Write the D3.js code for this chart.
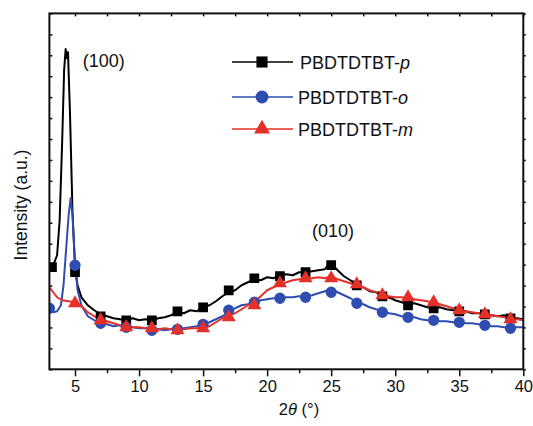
<!DOCTYPE html>
<html><head><meta charset="utf-8">
<script src="https://cdn.jsdelivr.net/npm/d3@7"></script>
<style>body{margin:0;background:#fff}svg{display:block}text{font-family:"Liberation Sans",Arial,sans-serif;fill:#111}</style>
</head><body>
<svg id="c" width="533" height="426"></svg>
<script>
// ---- data (2θ in degrees, intensity in arbitrary units) ----
const seriesNames = ["PBDTDTBT-p", "PBDTDTBT-o", "PBDTDTBT-m"];
const seriesSuffix = ["p", "o", "m"];
const seriesColors = ["#000000", "#2f4db0", "#e5302a"];

const pX = [3.0,3.3,3.6,3.8,4.0,4.15,4.27,4.35,4.45,4.6,4.8,5.0,5.2,5.5,6.0,6.5,7.0,7.5,8.0,8.5,9.0,9.5,10.0,10.5,11.0,11.5,12.0,12.5,13.0,13.5,14.0,14.5,15.0,15.5,16.0,16.5,17.0,17.5,18.0,18.5,19.0,19.5,20.0,20.5,21.0,21.5,22.0,22.5,23.0,23.5,24.0,24.5,24.8,25.0,25.2,25.5,26.0,26.5,27.0,27.5,28.0,28.5,29.0,29.5,30.0,30.5,31.0,31.5,32.0,32.5,33.0,33.5,34.0,34.5,35.0,35.5,36.0,36.5,37.0,37.5,38.0,38.5,39.0,39.5,40.0];
const pY = [101,104,114,149,229,299,320,311,317,259,159,101,84,72,64,59,55,53,51,50,49,51,49,50,49,51,52,54,57,56,59,58,62,64,68,73,77,79,84,87,90,89,92,91,94,95,94,97,97,98,99,100,105,107,103,99,93,89,84,82,78,77,73,72,69,67,65,66,64,62,61,62,60,59,59,58,56,56,55,54,53,54,51,51,50];
const pMarkX = [3.2,5,7,9,11,13,15,17,19,21,23,25,27,29,31,33,35,37,39];
const pMarkY = [102,97,53,49,49,58,62,79,91,93,97,104,84,73,64,61,58,55,51];

const oX = [3.0,3.3,3.6,3.9,4.1,4.3,4.5,4.66,4.8,5.0,5.2,5.5,6.0,6.5,7.0,7.5,8.0,8.5,9.0,9.5,10.0,10.5,11.0,11.5,12.0,12.5,13.0,13.5,14.0,14.5,15.0,15.5,16.0,16.5,17.0,17.5,18.0,18.5,19.0,19.5,20.0,20.5,21.0,21.5,22.0,22.5,23.0,23.5,24.0,24.5,25.0,25.5,26.0,26.5,27.0,27.5,28.0,28.5,29.0,29.5,30.0,30.5,31.0,31.5,32.0,32.5,33.0,33.5,34.0,34.5,35.0,35.5,36.0,36.5,37.0,37.5,38.0,38.5,39.0,39.5,40.0];
const oY = [61,57,58,64,84,119,154,171,154,107,79,64,53,49,45,45,43,44,42,42,41,41,39,40,39,40,40,41,42,43,45,47,50,53,57,61,64,65,67,69,70,71,71,72,72,73,73,74,76,78,80,77,74,71,67,65,62,60,58,56,55,53,52,52,50,49,49,48,48,47,47,46,46,45,44,43,43,42,42,42,42];
const oMarkX = [3,5,7,9,11,13,15,17,19,21,23,25,27,29,31,33,35,37,39];
const oMarkY = [61,104,46,42,39,40,45,59,67,71,72,77,66,57,52,49,47,44,41];

const mX = [3.0,3.3,3.6,4.0,4.5,5.0,5.5,6.0,6.5,7.0,7.5,8.0,8.5,9.0,9.5,10.0,10.5,11.0,11.5,12.0,12.5,13.0,13.5,14.0,14.5,15.0,15.5,16.0,16.5,17.0,17.5,18.0,18.5,19.0,19.5,20.0,20.5,21.0,21.5,22.0,22.5,23.0,23.5,24.0,24.5,25.0,25.5,26.0,26.5,27.0,27.5,28.0,28.5,29.0,29.5,30.0,30.5,31.0,31.5,32.0,32.5,33.0,33.5,34.0,34.5,35.0,35.5,36.0,36.5,37.0,37.5,38.0,38.5,39.0,39.5,40.0];
const mY = [82,77,72,69,68,67,63,57,53,50,48,46,44,43,42,42,41,41,40,41,40,40,40,41,41,42,43,47,51,54,56,60,64,67,73,79,82,85,87,89,90,91,91,92,91,93,90,88,86,84,82,79,77,75,73,72,72,71,70,69,68,66,65,63,61,59,58,57,56,55,54,53,52,51,50,49];
const mMarkX = [5,7,9,11,13,15,17,19,21,23,25,27,29,31,33,35,37,39];
const mMarkY = [66,49,42,41,39,41,52,64,86,91,91,85,74,72,67,59,55,50];

const xMajorTicks = [5,10,15,20,25,30,35,40];
const xMinorTicks = [7.5,12.5,17.5,22.5,27.5,32.5,37.5];
const xTopTicks = [5,7.5,10,12.5,15,17.5,20,22.5,25,27.5,30,32.5,35,37.5,40];
const yDomain = [0, 355.7];
const yTickCount = 17;
const peakLabels = [{text:"(100)", x:5.6, y:302}, {text:"(010)", x:23.5, y:132}];

// ---- layout ----
const L = 49.4, R = 523.3, T = 13.4, B = 369.3;
const svg = d3.select("#c");
const x = d3.scaleLinear().domain([3, 40]).range([L, R]);
const y = d3.scaleLinear().domain(yDomain).range([B, T]);
const yTicks = d3.range(0, yTickCount + 1).map(i => yDomain[0] + i * (yDomain[1] - yDomain[0]) / yTickCount);

svg.append("defs").append("clipPath").attr("id","clip")
  .append("rect").attr("x", L).attr("y", T).attr("width", R - L).attr("height", B - T);

// axes
const gB = svg.append("g").attr("transform", `translate(0,${B})`)
  .call(d3.axisBottom(x).tickValues(xMajorTicks).tickSize(7).tickPadding(4).tickFormat(d3.format("d")));
svg.append("g").attr("transform", `translate(0,${B})`)
  .call(d3.axisBottom(x).tickValues(xMinorTicks).tickSize(4).tickFormat(""));
svg.append("g").attr("transform", `translate(0,${T})`)
  .call(d3.axisBottom(x).tickValues(xTopTicks).tickSize(3).tickFormat(""));
svg.append("g").attr("transform", `translate(${L},0)`)
  .call(d3.axisRight(y).tickValues(yTicks).tickSize(3).tickFormat(""));
svg.append("g").attr("transform", `translate(${R},0)`)
  .call(d3.axisRight(y).tickValues(yTicks).tickSize(2.5).tickFormat(""));
svg.selectAll(".domain").remove();
svg.selectAll(".tick line").attr("stroke", "#111").attr("stroke-width", 1.5);
gB.selectAll(".tick text").attr("font-size", 16.5).attr("fill", "#111")
  .attr("font-family", "Liberation Sans, Arial, sans-serif");

// data lines
const plot = svg.append("g").attr("clip-path", "url(#clip)");
const line = d3.line().x(d => x(d[0])).y(d => y(d[1]));
const seriesData = [
  {pts: d3.zip(pX, pY), marks: d3.zip(pMarkX, pMarkY)},
  {pts: d3.zip(oX, oY), marks: d3.zip(oMarkX, oMarkY)},
  {pts: d3.zip(mX, mY), marks: d3.zip(mMarkX, mMarkY)}
];
const symbols = [d3.symbolSquare, d3.symbolCircle, d3.symbolTriangle];
const symSizes = [95, 100, 85];
seriesData.forEach((s, i) => {
  plot.append("path").datum(s.pts).attr("d", line).attr("fill", "none")
    .attr("stroke", seriesColors[i]).attr("stroke-width", 2).attr("stroke-linejoin", "round");
});
seriesData.forEach((s, i) => {
  plot.selectAll(null).data(s.marks).enter().append("path")
    .attr("d", d3.symbol().type(symbols[i]).size(symSizes[i]))
    .attr("transform", d => `translate(${x(d[0])},${y(d[1])})`)
    .attr("fill", seriesColors[i]);
});

// frame
svg.append("rect").attr("x", L).attr("y", T).attr("width", R - L).attr("height", B - T)
  .attr("fill", "none").attr("stroke", "#111").attr("stroke-width", 2);

// peak labels
peakLabels.forEach(p => {
  svg.append("text").attr("x", x(p.x)).attr("y", y(p.y)).attr("font-size", 18).text(p.text);
});

// legend
const legRows = [62, 97, 129];
seriesNames.forEach((n, i) => {
  const g = svg.append("g");
  g.append("line").attr("x1", 232).attr("x2", 293).attr("y1", legRows[i]).attr("y2", legRows[i])
    .attr("stroke", seriesColors[i]).attr("stroke-width", 1.5);
  g.append("path").attr("d", d3.symbol().type(symbols[i]).size(symSizes[i] * 1.3)())
    .attr("transform", `translate(262,${legRows[i]})`).attr("fill", seriesColors[i]);
  const t = g.append("text").attr("x", i === 0 ? 300 : 298).attr("y", legRows[i] + 6.5).attr("font-size", 18);
  t.append("tspan").text(n.slice(0, n.length - seriesSuffix[i].length));
  t.append("tspan").attr("font-style", "italic").text(seriesSuffix[i]);
});

// axis titles
const xt = svg.append("text").attr("x", 299).attr("y", 415).attr("text-anchor", "middle").attr("font-size", 16.5);
xt.append("tspan").text("2");
xt.append("tspan").attr("font-style", "italic").text("θ");
xt.append("tspan").text(" (°)");
svg.append("text").attr("transform", "translate(27,205) rotate(-90)").attr("text-anchor", "middle")
  .attr("font-size", 17.5).text("Intensity (a.u.)");
</script>
</body></html>
